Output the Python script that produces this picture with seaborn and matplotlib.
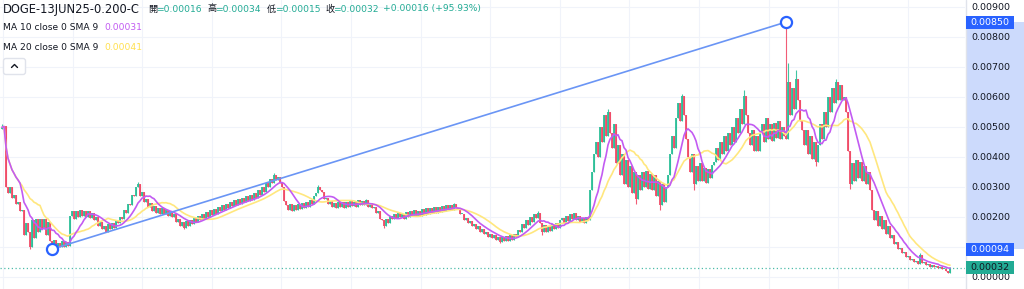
import matplotlib
matplotlib.use("Agg")
import numpy as np
import pandas as pd
import matplotlib.pyplot as plt
import seaborn as sns
from matplotlib.patches import Rectangle, FancyBboxPatch

# ---------------- data (prices in units of 1e-5) ----------------
closes = [
    500, 505, 300, 280, 300, 265, 275, 245, 250, 220,
    225, 140, 180, 150, 100, 190, 130, 195, 150, 195,
    160, 195, 140, 185, 120, 100, 125, 98, 115, 100,
    120, 100, 118, 104, 205, 220, 195, 222, 200, 225,
    205, 222, 200, 220, 198, 215, 190, 200, 172, 185,
    160, 172, 150, 178, 160, 182, 165, 188, 180, 200,
    195, 225, 215, 245, 240, 275, 270, 300, 312, 270,
    285, 250, 262, 235, 248, 220, 238, 215, 232, 210,
    230, 212, 225, 205, 222, 200, 210, 185, 195, 172,
    185, 165, 188, 172, 192, 178, 198, 185, 205, 190,
    210, 195, 218, 202, 225, 208, 228, 212, 235, 220,
    240, 225, 246, 232, 252, 238, 258, 242, 262, 245,
    265, 250, 270, 255, 275, 258, 280, 265, 290, 275,
    300, 285, 315, 300, 328, 315, 340, 325, 335, 315,
    300, 255, 240, 225, 245, 222, 240, 225, 245, 228,
    248, 232, 252, 236, 256, 245, 270, 280, 300, 290,
    285, 260, 265, 245, 255, 235, 248, 232, 250, 235,
    250, 232, 252, 236, 255, 238, 250, 234, 256, 240,
    255, 240, 258, 236, 248, 230, 235, 215, 220, 195,
    190, 172, 195, 180, 205, 195, 212, 198, 215, 200,
    212, 196, 218, 200, 220, 204, 225, 205, 222, 206,
    228, 208, 230, 212, 232, 215, 234, 216, 236, 218,
    238, 220, 240, 224, 242, 226, 244, 230, 228, 210,
    212, 192, 198, 180, 188, 170, 178, 160, 170, 152,
    162, 145, 152, 136, 146, 130, 140, 124, 134, 118,
    135, 120, 138, 122, 140, 125, 145, 135, 158, 150,
    178, 165, 192, 175, 202, 185, 210, 198, 215, 180,
    150, 175, 152, 172, 155, 178, 160, 182, 165, 190,
    198, 180, 205, 188, 212, 196, 215, 192, 205, 185,
    198, 182, 200, 190, 290, 350, 410, 450, 400, 500,
    450, 540, 470, 550, 480, 430, 510, 380, 440, 340,
    410, 310, 390, 300, 370, 280, 350, 260, 340, 290,
    350, 300, 355, 295, 345, 290, 340, 270, 320, 240,
    310, 250, 300, 340, 410, 470, 430, 530, 580, 520,
    605, 540, 460, 400, 350, 410, 310, 370, 320, 380,
    320, 365, 315, 360, 330, 375, 385, 430, 390, 450,
    410, 470, 420, 480, 440, 500, 450, 530, 480, 560,
    510, 605, 540, 480, 440, 490, 420, 470, 420, 480,
    510, 450, 530, 460, 510, 455, 515, 465, 520, 460,
    500, 470, 460, 650, 540, 630, 560, 660, 590, 520,
    490, 440, 490, 410, 470, 395, 450, 385, 440, 510,
    460, 550, 500, 600, 550, 630, 580, 650, 590, 640,
    590, 600, 550, 420, 310, 380, 320, 390, 330, 385,
    320, 370, 310, 350, 290, 225, 190, 220, 170, 205,
    160, 190, 145, 170, 132, 140, 112, 118, 95, 98,
    80, 86, 68, 72, 58, 62, 50, 56, 45, 75,
    48, 50, 40, 44, 36, 42, 36, 38, 32, 34,
    28, 29, 22, 16, 32,
]
first_open = 495
high_idx = [0, 68, 136, 158, 182, 226, 268, 303, 340, 371, 392, 393, 397, 417, 459, 474]
high_val = [510, 318, 347, 306, 262, 248, 220, 560, 612, 625, 850, 715, 690, 660, 82, 34]
low_idx = [14, 25, 91, 191, 249, 270, 317, 329, 346, 407, 424, 474]
low_val = [95, 94, 160, 165, 115, 140, 245, 225, 290, 370, 295, 15]
unit = 1e-5

trend_idx = [25, 392]
trend_val = [0.00094, 0.00850]
price_ticks = [0.000, 0.001, 0.002, 0.003, 0.004, 0.005, 0.006, 0.007, 0.008, 0.009]
last_close = 0.00032

header_title = "DOGE-13JUN25-0.200-C"
ohlc_labels = ["開", "高", "低", "收"]
ohlc_values = ["=0.00016", "=0.00034", "=0.00015", "=0.00032"]
change_text = "+0.00016 (+95.93%)"
ma_names = ["MA 10 close 0 SMA 9", "MA 20 close 0 SMA 9"]
ma_windows = [10, 20]
ma_values = ["0.00031", "0.00041"]

# ---------------- styling ----------------
sns.set_theme(style="white")
plt.rcParams["font.family"] = ["DejaVu Sans", "Noto Sans CJK SC"]

GREEN = "#2CBF98"
RED = "#F04B67"
PURPLE = "#C25BF2"
YELLOW = "#FFE77E"
TXT = "#131722"
VALGREEN = "#22AB94"
BLUE = "#2962FF"

c = np.array(closes, dtype=float) * unit
o = np.concatenate([[first_open * unit], c[:-1]])
hi = np.maximum(o, c)
lo = np.minimum(o, c)
hi[high_idx] = np.maximum(hi[high_idx], np.array(high_val) * unit)
lo[low_idx] = np.minimum(lo[low_idx], np.array(low_val) * unit)
idx = np.arange(len(c))
df = pd.DataFrame({"idx": idx, "open": o, "close": c, "high": hi, "low": lo})
df["ma10"] = df["close"].rolling(ma_windows[0], min_periods=1).mean()
df["ma20"] = df["close"].rolling(ma_windows[1], min_periods=1).mean()

W, H = 1024, 289
fig = plt.figure(figsize=(W / 100, H / 100), dpi=100)
fig.patch.set_facecolor("white")
plot_right = 965
y0 = 277.4      # pixel row of price 0
k = 30040.0     # pixels per unit of price
ylim = ((y0 - H) / k, y0 / k)

ax = fig.add_axes([0, 0, plot_right / W, 1])
ax.set_facecolor("white")
ax.set_ylim(*ylim)
ax.set_xlim(-1, (plot_right - 2) / 2)
ax.set_yticks(price_ticks)
ax.set_xticks(np.arange(0.5, 480, 34.8))
ax.grid(True, color="#F0F3FA", lw=0.8)
ax.tick_params(length=0, labelleft=False, labelbottom=False)
for s in ax.spines.values():
    s.set_visible(False)

up = df["close"] >= df["open"]
cols = np.where(up, GREEN, RED)
ax.vlines(df["idx"], df["low"], df["high"], colors=cols, lw=0.8, zorder=2, alpha=0.9)
body = np.maximum((df["close"] - df["open"]).abs(), 1.0 / k)
ax.bar(df["idx"], body, bottom=np.minimum(df["open"], df["close"]), width=0.6,
       color=cols, lw=0, zorder=2, alpha=0.9)

sns.lineplot(data=df, x="idx", y="ma20", color=YELLOW, lw=1.2, ax=ax, zorder=3)
sns.lineplot(data=df, x="idx", y="ma10", color=PURPLE, lw=1.2, ax=ax, zorder=3)
ax.set_xlabel("")
ax.set_ylabel("")

ax.axhline(last_close, color=VALGREEN, lw=0.9, ls=(0, (1, 2)), zorder=1, alpha=0.8)

ax.plot(trend_idx, trend_val, color="#6A95F5", lw=1.2, zorder=4)
ax.plot(trend_idx, trend_val, "o", ms=8, mfc="white", mec=BLUE, mew=1.6, zorder=5)

# ---------------- right price axis ----------------
axr = fig.add_axes([plot_right / W, 0, (W - plot_right) / W, 1])
axr.set_ylim(*ylim)
axr.set_xlim(0, W - plot_right)
axr.axis("off")
axr.axvline(0.5, color="#E0E3EB", lw=1)
axr.add_patch(Rectangle((2, trend_val[0]), 57, trend_val[1] - trend_val[0],
                        color="#CCDAFC", lw=0, zorder=1))
for t in price_ticks:
    axr.text(26, t, f"{t:.5f}", ha="center", va="center", fontsize=6.8, color=TXT, zorder=2)
bh = 13 / k
for v, fc, tc in [(trend_val[1], BLUE, "white"), (trend_val[0], BLUE, "white"),
                  (last_close, VALGREEN, TXT)]:
    axr.add_patch(Rectangle((1, v - bh / 2), 48, bh, color=fc, lw=0, zorder=3))
    axr.text(25, v, f"{v:.5f}", ha="center", va="center", fontsize=6.8, color=tc, zorder=4)

# ---------------- header overlay ----------------
axo = fig.add_axes([0, 0, 1, 1], zorder=10)
axo.set_xlim(0, W)
axo.set_ylim(H, 0)
axo.axis("off")
axo.patch.set_alpha(0)

axo.text(3, 9, header_title, fontsize=8.3, color=TXT, va="center", ha="left")
lab_x = [148, 207, 267, 325]
for lx, lab, val in zip(lab_x, ohlc_labels, ohlc_values):
    axo.text(lx, 9, lab, fontsize=6.6, color=TXT, va="center", ha="left")
    axo.text(lx + 8.5, 9, val, fontsize=6.6, color=VALGREEN, va="center", ha="left")
axo.text(383, 9, change_text, fontsize=6.6, color=VALGREEN, va="center", ha="left")

for yy, name, val, colr in zip([27, 47], ma_names, ma_values, [PURPLE, "#FFE04D"]):
    axo.text(3, yy, name, fontsize=6.6, color=TXT, va="center", ha="left")
    axo.text(104, yy, val, fontsize=6.6, color=colr, va="center", ha="left")

axo.add_patch(FancyBboxPatch((3.5, 58.5), 22, 16, boxstyle="round,pad=0,rounding_size=2.5",
                             fc="white", ec="#E0E3EB", lw=1))
axo.plot([11.5, 14.5, 17.5], [67.5, 64.5, 67.5], color=TXT, lw=1)

fig.savefig("out.png", dpi=100, facecolor="white")
